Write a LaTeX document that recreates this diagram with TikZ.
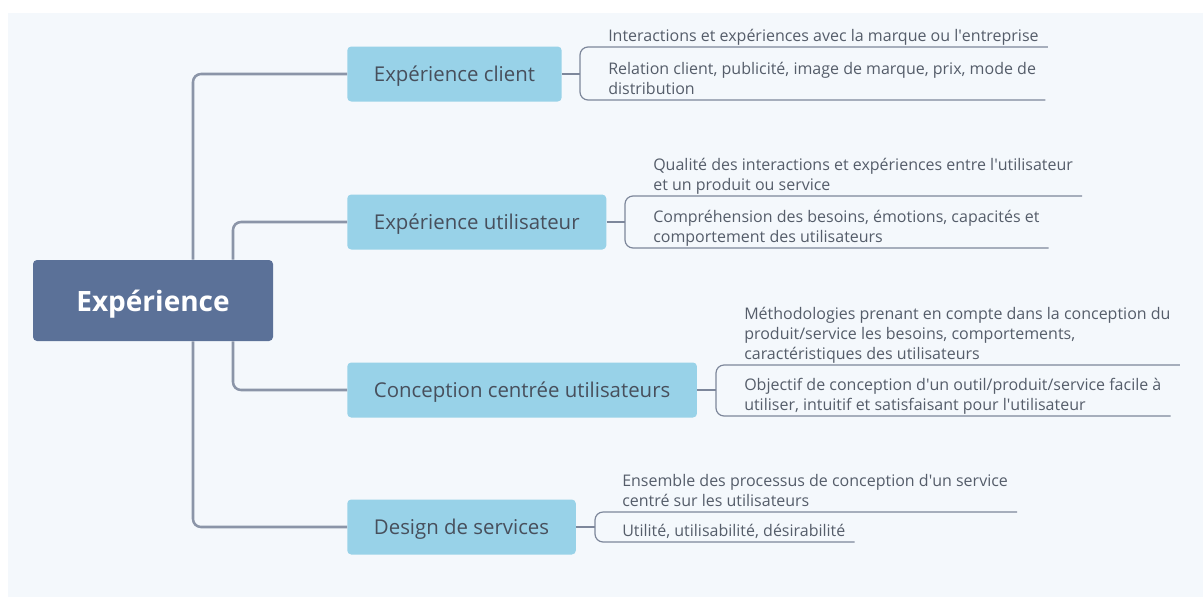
\documentclass[tikz,border=0pt]{standalone}
\usepackage{fontspec}
\setmainfont{Open Sans}
\usepackage{tikz}
\usetikzlibrary{positioning}

\definecolor{bgpane}{HTML}{F4F8FC}
\definecolor{rootblue}{HTML}{5B7198}
\definecolor{boxblue}{HTML}{98D2E8}
\definecolor{spinegray}{HTML}{8B95A8}
\definecolor{twiggray}{HTML}{7D879B}
\definecolor{boxtext}{HTML}{474F5C}
\definecolor{leaftext}{HTML}{555D6A}

\newcommand{\apos}{\textquotesingle}

\tikzset{
  rootbox/.style={fill=rootblue,rounded corners=3pt,minimum width=180pt,minimum height=60.75pt,
    text depth=0pt,text=white,font=\fontsize{21}{25}\selectfont\bfseries},
  topicbox/.style={fill=boxblue,rounded corners=3pt,minimum height=41.25pt,inner xsep=20pt,
    text depth=1pt,anchor=west,text=boxtext,font=\fontsize{15.3}{18}\selectfont},
  leaf/.style={anchor=south west,align=left,inner xsep=6.75pt,inner ysep=0pt,text=leaftext,
    font=\fontsize{12}{15}\selectfont,execute at end node={\rule[-3.6pt]{0pt}{0pt}}},
  branch/.style={draw=spinegray,line width=1.9pt,rounded corners=6pt},
  twig/.style={draw=twiggray,line width=0.9pt,rounded corners=6pt}
}

\begin{document}
\begin{tikzpicture}[x=0.75pt,y=-0.75pt]
  % page and pane
  \fill[white] (0,0) rectangle (1203,597);
  \fill[bgpane] (8,13) rectangle (1203,597);
  \useasboundingbox (0,0) rectangle (1203,597);

  % spine positions
  \coordinate (sa) at (193,0);
  \coordinate (sb) at (233,0);

  % root and topics
  \node[rootbox] (root) at (153,300.5) {Expérience};
  \node[topicbox] (b1) at (347,74)  {Expérience client};
  \node[topicbox] (b2) at (347,222) {Expérience utilisateur};
  \node[topicbox] (b3) at (347,390) {Conception centrée utilisateurs};
  \node[topicbox] (b4) at (347,527) {Design de services};

  % branches
  \foreach \b/\s in {b1/sa,b2/sb}{\draw[branch] (root.north -| \s) |- (\b.west);}
  \foreach \b/\s in {b3/sb,b4/sa}{\draw[branch] (root.south -| \s) |- (\b.west);}

  % leaves
  \node[leaf] (l11) at (599,47)  {Interactions et expériences avec la marque ou l\apos entreprise};
  \node[leaf] (l12) at (599,100) {Relation client, publicité, image de marque, prix, mode de\\distribution};
  \node[leaf] (l21) at (644,196) {Qualité des interactions et expériences entre l\apos utilisateur\\et un produit ou service};
  \node[leaf] (l22) at (644,248) {Compréhension des besoins, émotions, capacités et\\comportement des utilisateurs};
  \node[leaf] (l31) at (735,365) {Méthodologies prenant en compte dans la conception du\\produit/service les besoins, comportements,\\caractéristiques des utilisateurs};
  \node[leaf] (l32) at (735,416) {Objectif de conception d\apos un outil/produit/service facile à\\utiliser, intuitif et satisfaisant pour l\apos utilisateur};
  \node[leaf] (l41) at (613,512) {Ensemble des processus de conception d\apos un service\\centré sur les utilisateurs};
  \node[leaf] (l42) at (613,542) {Utilité, utilisabilité, désirabilité};

  % brackets
  \coordinate (k1) at (580,0);
  \coordinate (k2) at (625,0);
  \coordinate (k3) at (716,0);
  \coordinate (k4) at (595,0);
  \foreach \b/\k/\p/\q in {b1/k1/l11/l12,b2/k2/l21/l22,b3/k3/l31/l32,b4/k4/l41/l42}{
    \draw[twig] (\b.east) -- (\b.east -| \k);
    \draw[twig] (\p.south east) -- (\p.south -| \k) -- (\q.south -| \k) -- (\q.south east);
  }
\end{tikzpicture}
\end{document}
